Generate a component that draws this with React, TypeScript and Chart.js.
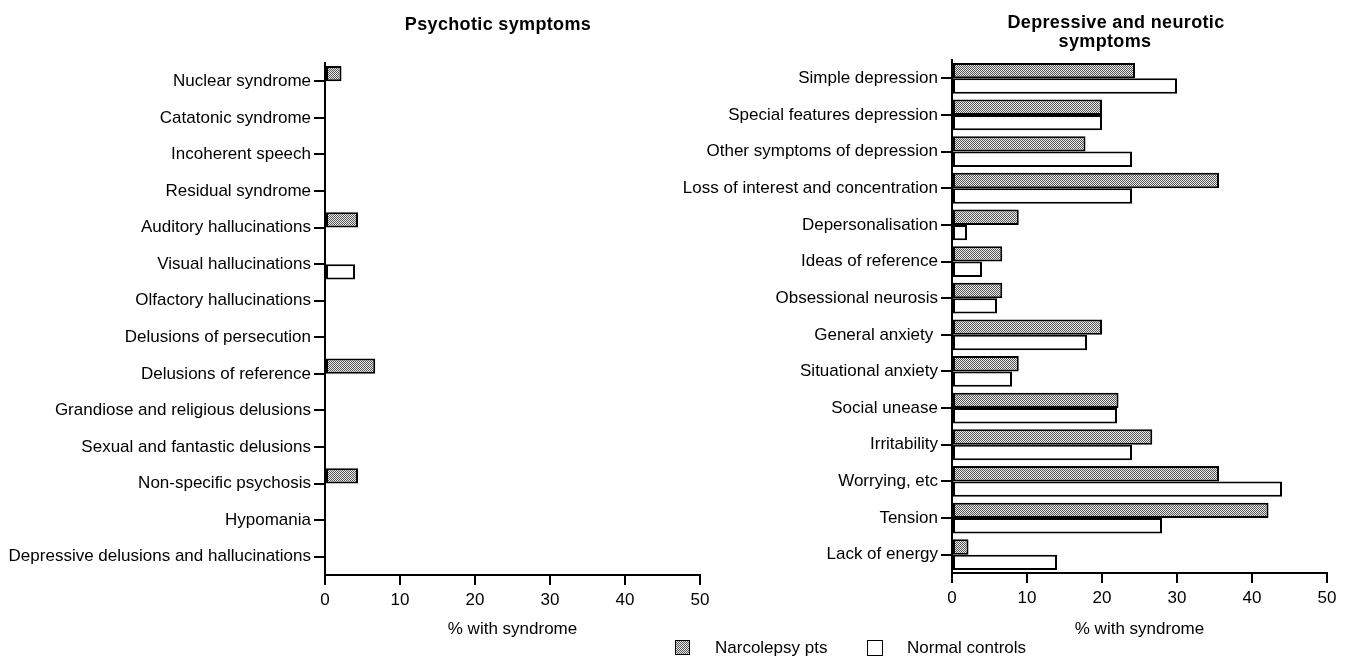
import React, { useEffect, useRef } from "react";
import { Chart, registerables } from "chart.js";

Chart.register(...registerables);

const psychoticCategories = [
  "Nuclear syndrome",
  "Catatonic syndrome",
  "Incoherent speech",
  "Residual syndrome",
  "Auditory hallucinations",
  "Visual hallucinations",
  "Olfactory hallucinations",
  "Delusions of persecution",
  "Delusions of reference",
  "Grandiose and religious delusions",
  "Sexual and fantastic delusions",
  "Non-specific psychosis",
  "Hypomania",
  "Depressive delusions and hallucinations",
];
const psychoticNarcolepsy = [2.2, 0, 0, 0, 4.4, 0, 0, 0, 6.7, 0, 0, 4.4, 0, 0];
const psychoticControls = [0, 0, 0, 0, 0, 4.0, 0, 0, 0, 0, 0, 0, 0, 0];

const neuroticCategories = [
  "Simple depression",
  "Special features depression",
  "Other symptoms of depression",
  "Loss of interest and concentration",
  "Depersonalisation",
  "Ideas of reference",
  "Obsessional neurosis",
  "General anxiety ",
  "Situational anxiety",
  "Social unease",
  "Irritability",
  "Worrying, etc",
  "Tension",
  "Lack of energy",
];
const neuroticNarcolepsy = [24.4, 20.0, 17.8, 35.6, 8.9, 6.7, 6.7, 20.0, 8.9, 22.2, 26.7, 35.6, 42.2, 2.2];
const neuroticControls = [30.0, 20.0, 24.0, 24.0, 2.0, 4.0, 6.0, 18.0, 8.0, 22.0, 24.0, 44.0, 28.0, 14.0];

const xTickValues = [0, 10, 20, 30, 40, 50];
const seriesLabels = ["Narcolepsy pts", "Normal controls"];
const axisTitle = "% with syndrome";

const FONT = "'Liberation Sans', Arial, Helvetica, sans-serif";

function makePattern(ctx: CanvasRenderingContext2D) {
  const c = document.createElement("canvas");
  c.width = 2;
  c.height = 2;
  const g = c.getContext("2d")!;
  g.fillStyle = "#ececec";
  g.fillRect(0, 0, 2, 2);
  g.fillStyle = "#555555";
  g.fillRect(0, 0, 1, 1);
  g.fillRect(1, 1, 1, 1);
  return ctx.createPattern(c, "repeat");
}

function buildConfig(
  labels: string[],
  narc: number[],
  ctrl: number[],
  pattern: any,
  yWidth: number,
  padTop: number,
  xHeight: number,
  padRight: number
): any {
  return {
    type: "bar",
    data: {
      labels,
      datasets: [
        {
          label: seriesLabels[0],
          data: narc,
          backgroundColor: pattern,
          borderColor: "#000",
          borderWidth: 2,
          borderSkipped: false,
          inflateAmount: 0,
          categoryPercentage: 0.84,
          barPercentage: 1.0,
        },
        {
          label: seriesLabels[1],
          data: ctrl,
          backgroundColor: "#ffffff",
          borderColor: "#000",
          borderWidth: 2,
          borderSkipped: false,
          inflateAmount: 0,
          categoryPercentage: 0.84,
          barPercentage: 1.0,
        },
      ],
    },
    options: {
      indexAxis: "y",
      responsive: false,
      maintainAspectRatio: false,
      animation: false,
      layout: { padding: { top: padTop, right: padRight, left: 0, bottom: 0 } },
      plugins: {
        legend: { display: false },
        title: { display: false },
        tooltip: { enabled: false },
      },
      scales: {
        x: {
          type: "linear",
          min: 0,
          max: 50,
          afterFit: (s: any) => {
            s.height = xHeight;
          },
          afterBuildTicks: (s: any) => {
            s.ticks = xTickValues.map((v) => ({ value: v }));
          },
          border: { display: true, color: "#000", width: 2 },
          grid: {
            display: true,
            drawOnChartArea: false,
            drawTicks: true,
            tickLength: 10,
            color: "#000",
            lineWidth: 2,
          },
          ticks: { color: "#000", font: { family: FONT, size: 17 }, padding: 5 },
          title: {
            display: true,
            text: axisTitle,
            color: "#000",
            font: { family: FONT, size: 17 },
            padding: { top: 0, bottom: 20 },
          },
        },
        y: {
          type: "category",
          offset: true,
          afterFit: (s: any) => {
            s.width = yWidth;
          },
          border: { display: true, color: "#000", width: 2 },
          grid: {
            display: true,
            offset: false,
            drawOnChartArea: false,
            drawTicks: true,
            tickLength: 11,
            color: "#000",
            lineWidth: 2,
          },
          ticks: { color: "#000", font: { family: FONT, size: 17 }, padding: 3, autoSkip: false },
        },
      },
    },
  };
}

function BarPanel(props: {
  left: number;
  width: number;
  labels: string[];
  narc: number[];
  ctrl: number[];
  yWidth: number;
  padTop: number;
  xHeight: number;
  padRight: number;
}) {
  const ref = useRef<HTMLCanvasElement | null>(null);
  useEffect(() => {
    const canvas = ref.current!;
    const ctx = canvas.getContext("2d")!;
    const pattern = makePattern(ctx);
    const chart = new Chart(
      ctx,
      buildConfig(props.labels, props.narc, props.ctrl, pattern, props.yWidth, props.padTop, props.xHeight, props.padRight)
    );
    return () => chart.destroy();
  }, []);
  return (
    <canvas
      ref={ref}
      width={props.width}
      height={660}
      style={{ position: "absolute", left: props.left, top: 0, width: props.width, height: 660 }}
    />
  );
}

const titleStyle: React.CSSProperties = {
  position: "absolute",
  fontFamily: FONT,
  fontWeight: "bold",
  fontSize: 18,
  letterSpacing: "0.35px",
  lineHeight: "20px",
  whiteSpace: "nowrap",
  transform: "translateX(-50%)",
  color: "#000",
};

const legendText: React.CSSProperties = {
  position: "absolute",
  fontFamily: FONT,
  fontSize: 17,
  lineHeight: "20px",
  whiteSpace: "nowrap",
  color: "#000",
  top: 638,
};

export default function App() {
  return (
    <div style={{ position: "absolute", left: 0, top: 0, width: 1348, height: 660, background: "#fff", overflow: "hidden" }}>
      <BarPanel
        left={0}
        width={720}
        labels={psychoticCategories}
        narc={psychoticNarcolepsy}
        ctrl={psychoticControls}
        yWidth={325}
        padTop={63}
        xHeight={85}
        padRight={20}
      />
      <BarPanel
        left={660}
        width={688}
        labels={neuroticCategories}
        narc={neuroticNarcolepsy}
        ctrl={neuroticControls}
        yWidth={292}
        padTop={60}
        xHeight={87}
        padRight={21}
      />
      <div style={{ ...titleStyle, left: 498, top: 14 }}>Psychotic symptoms</div>
      <div style={{ ...titleStyle, left: 1116, top: 12 }}>Depressive and neurotic</div>
      <div style={{ ...titleStyle, left: 1105, top: 31 }}>symptoms</div>

      <div
        style={{
          position: "absolute",
          left: 675,
          top: 640,
          width: 13,
          height: 13,
          border: "1.5px solid #000",
          backgroundImage: "repeating-conic-gradient(#555555 0 25%, #ececec 0 50%)",
          backgroundSize: "2px 2px",
        }}
      />
      <div style={{ ...legendText, left: 715 }}>{seriesLabels[0]}</div>
      <div
        style={{
          position: "absolute",
          left: 867,
          top: 640,
          width: 14,
          height: 14,
          border: "1.5px solid #000",
          background: "#fff",
        }}
      />
      <div style={{ ...legendText, left: 907 }}>{seriesLabels[1]}</div>
    </div>
  );
}
